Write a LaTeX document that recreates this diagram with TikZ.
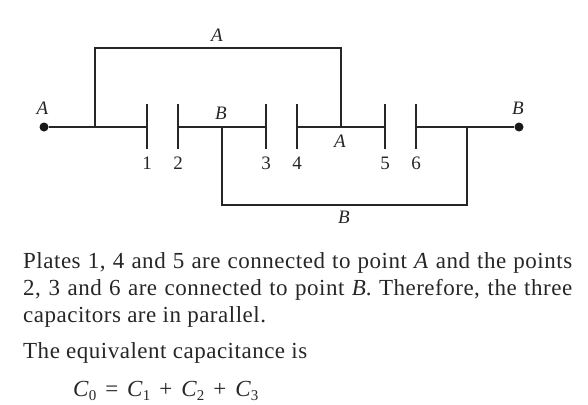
\documentclass[tikz,border=0pt]{standalone}
\usepackage{fontspec}
\setmainfont{Liberation Serif}
\newfontfamily\bodyfont[LetterSpace=2.2]{Liberation Serif}
\usetikzlibrary{positioning}
\tikzset{wire/.style={line width=1.1pt, black!85}}
\tikzset{plate/.style={line width=1.1pt, black!85}}
\tikzset{term/.style={circle, fill=black!90, inner sep=0pt, minimum size=9pt}}
\tikzset{lbl/.style={inner sep=0pt, font=\fontsize{19}{19}\selectfont, black!85}}
\tikzset{para/.style={inner sep=0pt, anchor=base west, text width=549pt, align=justify, black!85,
    font=\bodyfont\fontsize{23}{27}\selectfont}}
\newcommand{\capsub}[1]{\textit{C}\raisebox{-0.45ex}{\fontsize{15}{15}\selectfont #1}}
\newcommand{\eqgap}{\hspace{9pt}}

\begin{document}
\begin{tikzpicture}[x=1pt, y=-1pt]
    \useasboundingbox (0,0) rectangle (588,404);
    % terminals and junctions
    \node[term] (dotA) at (44,127) {};
    \node[term] (dotB) at (519,127) {};
    \coordinate (jA1) at (95,127);
    \coordinate (jA2) at (341,127);
    \coordinate (jB1) at (222,127);
    \coordinate (jB2) at (467,127);
    \coordinate (topL) at (95,48);
    \coordinate (topR) at (341,48);
    \coordinate (botL) at (222,205);
    \coordinate (botR) at (467,205);
    % plates
    \foreach \n/\x in {1/147, 2/178, 3/266, 4/297, 5/385, 6/416} {
        \coordinate (p\n) at (\x,127);
        \coordinate (p\n t) at (\x,104);
        \coordinate (p\n b) at (\x,149);
        \draw[plate] (p\n t) -- (p\n b);
        \node[lbl] (num\n) at (\x,163) {\n};
    }
    % wires
    \draw[wire] (dotA) -- (p1);
    \draw[wire] (p2) -- (p3);
    \draw[wire] (p4) -- (p5);
    \draw[wire] (p6) -- (dotB);
    \draw[wire] (jA1) -- (topL) -- (topR) -- (jA2);
    \draw[wire] (jB1) -- (botL) -- (botR) -- (jB2);
    % labels
    \node[lbl] (lblA1) at (42.5,108) {\textit{A}};
    \node[lbl] (lblA2) at (217,35) {\textit{A}};
    \node[lbl] (lblA3) at (340,141) {\textit{A}};
    \node[lbl] (lblB1) at (221,113) {\textit{B}};
    \node[lbl] (lblB2) at (518,108) {\textit{B}};
    \node[lbl] (lblB3) at (344,217) {\textit{B}};
    % text
    \node[para] (line1) at (23,268) {Plates 1, 4 and 5 are connected to point \textit{A} and the points\linebreak
        2, 3 and 6 are connected to point \textit{B}. Therefore, the three\linebreak
        capacitors are in parallel.};
    \node[para] (line4) at (23,358) {The equivalent capacitance is};
    \node[para, font=\fontsize{23}{27}\selectfont, align=left] (line5) at (73,396)
        {\capsub{0}\eqgap=\eqgap\capsub{1}\eqgap+\eqgap\capsub{2}\eqgap+\eqgap\capsub{3}};
\end{tikzpicture}
\end{document}
